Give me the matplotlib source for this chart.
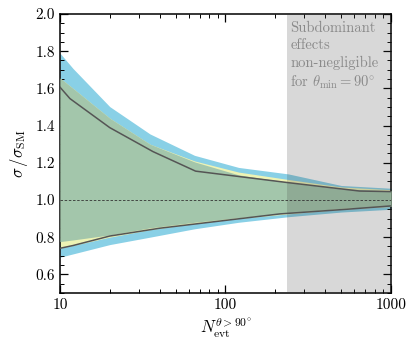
import matplotlib
matplotlib.use('Agg')
import matplotlib.pyplot as plt
from matplotlib.ticker import MultipleLocator, FixedLocator, FixedFormatter, LogLocator, NullFormatter

plt.rcParams['font.family'] = 'serif'
plt.rcParams['font.serif'] = ['cmr10', 'DejaVu Serif']
plt.rcParams['mathtext.fontset'] = 'cm'
plt.rcParams['axes.unicode_minus'] = False

# sample sizes (events with theta > 90 deg)
n_evt = [10, 12, 20, 35, 65, 120, 240, 500, 1000]

# outer (blue) band
blue_lo = [0.692, 0.71, 0.76, 0.80, 0.845, 0.88, 0.91, 0.935, 0.95]
blue_hi = [1.79, 1.707, 1.502, 1.355, 1.24, 1.175, 1.14, 1.078, 1.063]

# yellow band
yellow_lo = [0.74, 0.755, 0.80, 0.84, 0.872, 0.90, 0.925, 0.95, 0.965]
yellow_hi = [1.656, 1.60, 1.44, 1.30, 1.21, 1.15, 1.11, 1.07, 1.055]

# green band
green_lo = [0.776, 0.785, 0.812, 0.85, 0.88, 0.905, 0.93, 0.955, 0.965]
green_hi = [1.656, 1.60, 1.44, 1.30, 1.205, 1.135, 1.095, 1.06, 1.05]

# dark lines
line_n_hi = [10, 11.5, 20, 36.5, 66, 240, 645, 1000]
line_hi = [1.607, 1.545, 1.389, 1.26, 1.155, 1.093, 1.048, 1.045]
line_n_lo = [10, 12, 20, 40, 213, 540, 1000]
line_lo = [0.74, 0.755, 0.806, 0.848, 0.925, 0.95, 0.968]

gray_start = 236

fig = plt.figure(figsize=(4.16, 3.5), dpi=100)
ax = fig.add_axes([0.144, 0.163, 0.796, 0.797])

ax.fill_between(n_evt, blue_lo, blue_hi, color='#89d0e6', lw=0, zorder=1)
ax.fill_between(n_evt, yellow_lo, yellow_hi, color='#eef3b4', lw=0, zorder=2)
ax.fill_between(n_evt, green_lo, green_hi, color='#a3c6ab', lw=0, zorder=3)
ax.plot(line_n_hi, line_hi, color='#555555', lw=1.1, zorder=5)
ax.plot(line_n_lo, line_lo, color='#555555', lw=1.1, zorder=5)
ax.axhline(1.0, color='#333333', lw=0.6, ls=(0, (3, 2)), zorder=5)
ax.axvspan(gray_start, 1000, color='#404040', alpha=0.2, lw=0, zorder=4)

ax.text(246, 1.96, 'Subdominant\neffects\nnon-negligible\nfor $\\theta_{\\rm min} = 90^{\\circ}$',
        color='#8a8a8a', fontsize=10.5, va='top', ha='left', linespacing=1.3, zorder=6)

ax.set_xscale('log')
ax.set_xlim(10, 1000)
ax.set_ylim(0.5, 2.0)
ax.xaxis.set_major_locator(FixedLocator([10, 100, 1000]))
ax.xaxis.set_major_formatter(FixedFormatter(['10', '100', '1000']))
ax.xaxis.set_minor_locator(LogLocator(base=10, subs=range(2, 10)))
ax.xaxis.set_minor_formatter(NullFormatter())
ax.yaxis.set_minor_locator(MultipleLocator(0.05))
ax.set_yticks([0.6, 0.8, 1.0, 1.2, 1.4, 1.6, 1.8, 2.0])
ax.set_yticklabels(['0.6', '0.8', '1.0', '1.2', '1.4', '1.6', '1.8', '2.0'])

ax.tick_params(which='both', direction='in', top=True, right=True, labelsize=11)
ax.tick_params(which='major', length=6, width=0.9)
ax.tick_params(which='minor', length=3, width=0.7)
for s in ax.spines.values():
    s.set_linewidth(1.1)

ax.set_xlabel('$N_{\\rm evt}^{\\theta > 90^{\\circ}}$', fontsize=12)
ax.set_ylabel('$\\sigma\\,/\\sigma_{\\rm SM}$', fontsize=12)

fig.savefig('out.png', dpi=100)
